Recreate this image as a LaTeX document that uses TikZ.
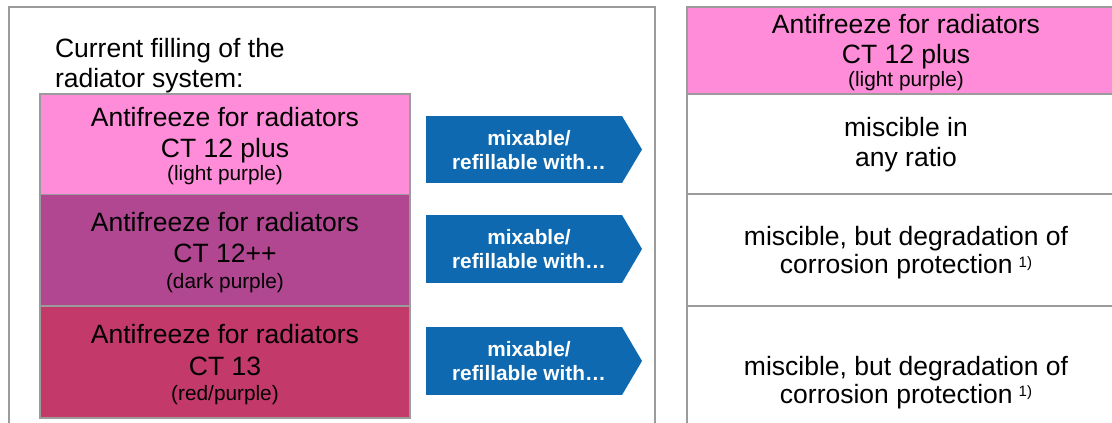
\documentclass[tikz,border=0pt]{standalone}
\usepackage{fontspec}
\setmainfont{Liberation Sans}
\definecolor{pinkL}{RGB}{255,140,216}
\definecolor{purpD}{RGB}{176,71,144}
\definecolor{redP}{RGB}{194,57,106}
\definecolor{blueA}{RGB}{14,105,176}
\definecolor{grayL}{RGB}{155,155,155}
\newcommand{\fnmark}{\hspace{6pt}{\fontsize{15}{17}\selectfont\raisebox{6.5pt}{1)}}}
\begin{document}
\begin{tikzpicture}[x=1pt,y=-1pt,
  big/.style={font=\fontsize{26.5}{31}\selectfont, inner sep=0pt, outer sep=0pt, anchor=base},
  small/.style={font=\fontsize{20.8}{24}\selectfont, inner sep=0pt, outer sep=0pt, anchor=base},
  arrtxt/.style={font=\fontsize{20.8}{24}\selectfont\bfseries, text=white, inner sep=0pt, outer sep=0pt, anchor=base},
  colbox/.style={draw=grayL, line width=1.3pt, inner sep=0pt, outer sep=0pt, minimum width=370},
  cell/.style={draw=grayL, line width=1.3pt, inner sep=0pt, outer sep=0pt, minimum width=438},
  arrbody/.style={fill=blueA, inner sep=0pt, outer sep=0pt, minimum width=196},
  frame/.style={draw=grayL, line width=1.3pt}]
\useasboundingbox (0,0) rectangle (1112,423);
\fill[white] (0,0) rectangle (1112,423);

% left frame
\coordinate (fl) at (9,440);
\coordinate (fr) at (655,440);
\draw[frame] (fl) |- (655,7) -- (fr);

\node[big, anchor=base west] (cur1) at (55,57) {Current filling of the};
\node[big, anchor=base west] (cur2) at (55,87) {radiator system:};

% coloured boxes
\node[colbox, fill=pinkL, minimum height=100.5] (bx1) at (225,144.25) {};
\node[colbox, fill=purpD, minimum height=111.5] (bx2) at (225,250.25) {};
\node[colbox, fill=redP, minimum height=112] (bx3) at (225,362) {};

\node[big] (b1a) at (225,126) {Antifreeze for radiators};
\node[big] (b1b) at (225,157) {CT 12 plus};
\node[small] (b1c) at (225,180) {(light purple)};

\node[big] (b2a) at (225,231) {Antifreeze for radiators};
\node[big] (b2b) at (225,262) {CT 12++};
\node[small] (b2c) at (225,288) {(dark purple)};

\node[big] (b3a) at (225,343) {Antifreeze for radiators};
\node[big] (b3b) at (225,375) {CT 13};
\node[small] (b3c) at (225,400) {(red/purple)};

% arrows
\node[arrbody, minimum height=67] (ar1) at (524,149.5) {};
\fill[blueA] (ar1.north east) -- ++(20,33.5) -- (ar1.south east) -- cycle;
\node[arrbody, minimum height=68] (ar2) at (524,249) {};
\fill[blueA] (ar2.north east) -- ++(20,34) -- (ar2.south east) -- cycle;
\node[arrbody, minimum height=68] (ar3) at (524,361) {};
\fill[blueA] (ar3.north east) -- ++(20,34) -- (ar3.south east) -- cycle;

\node[arrtxt] (a1a) at (529,145) {mixable/};
\node[arrtxt] (a1b) at (529,169) {refillable with…};
\node[arrtxt] (a2a) at (529,244) {mixable/};
\node[arrtxt] (a2b) at (529,268) {refillable with…};
\node[arrtxt] (a3a) at (529,356.5) {mixable/};
\node[arrtxt] (a3b) at (529,380.5) {refillable with…};

% right panel
\node[cell, fill=pinkL, minimum height=87] (hd) at (906,50.5) {};
\node[cell, minimum height=100] (r1) at (906,144) {};
\node[cell, minimum height=112] (r2) at (906,250) {};
\node[cell, minimum height=140] (r3) at (906,376) {};

\node[big] (h1) at (906,33) {Antifreeze for radiators};
\node[big] (h2) at (906,63) {CT 12 plus};
\node[small] (h3) at (906,86) {(light purple)};

\node[big] (t1a) at (906,136.5) {miscible in};
\node[big] (t1b) at (906,166.5) {any ratio};

\node[big] (t2a) at (906,245) {miscible, but degradation of};
\node[big] (t2b) at (906,273.5) {corrosion protection\fnmark};

\node[big] (t3a) at (906,375) {miscible, but degradation of};
\node[big] (t3b) at (906,403) {corrosion protection\fnmark};
\end{tikzpicture}
\end{document}
